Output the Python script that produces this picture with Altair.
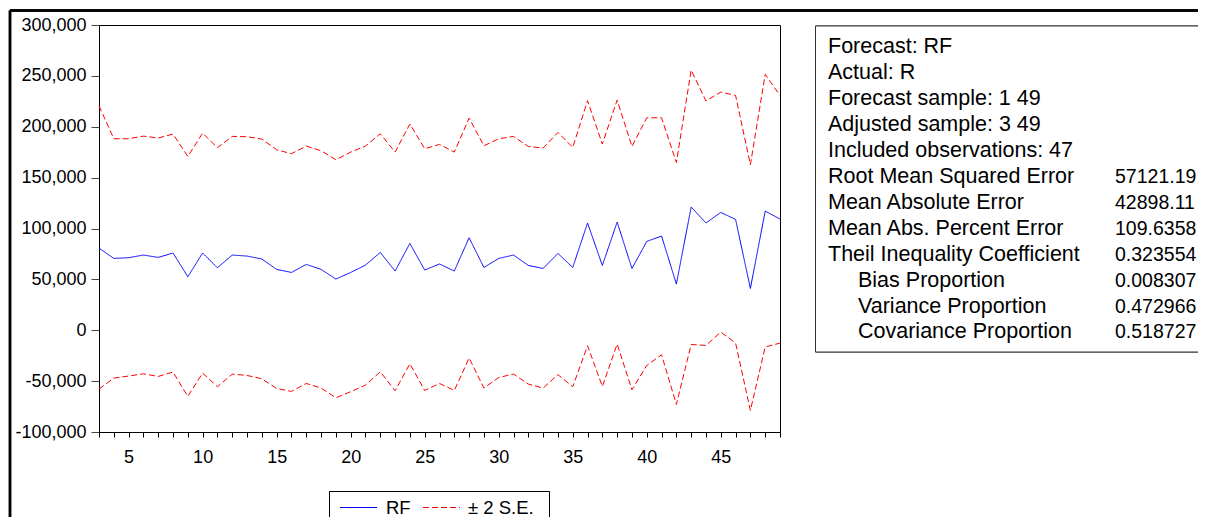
import altair as alt
import pandas as pd

# ---- data ----
periods = list(range(3, 50))
rf = [80800, 70600, 71300, 73900, 71600, 75900, 52600, 75900, 61400, 73900, 72900, 70000,
      59800, 56800, 64700, 59800, 50300, 56800, 64000, 76500, 58200, 85300, 59200, 65100,
      58200, 90900, 61700, 70600, 73900, 63700, 60700, 75500, 61700, 105400, 63700, 106300,
      60700, 87300, 92600, 45400, 121100, 105400, 115800, 108900, 41100, 117100, 109300]
upper = [220600, 188200, 188200, 190800, 188900, 192800, 170800, 193800, 179400, 190500,
         190200, 187900, 177400, 173500, 181000, 176400, 167600, 175100, 181000, 193100,
         175100, 202700, 178400, 182600, 175100, 208500, 181300, 188200, 190500, 180600,
         179100, 194400, 179700, 225600, 183000, 226200, 180600, 208800, 208800, 164900,
         255700, 225300, 234100, 230800, 162700, 251400, 230800]
lower = [-57800, -47000, -45000, -42800, -45400, -41100, -65000, -42100, -55500, -43100,
         -44400, -47700, -57200, -60100, -52300, -56800, -66300, -60400, -53900, -40800,
         -59500, -32900, -59200, -52300, -59200, -27300, -56800, -46400, -43100, -52900,
         -56800, -43700, -55500, -15200, -55200, -13600, -58500, -34600, -24100, -72900,
         -14000, -14900, -1800, -12600, -78800, -16500, -12600]

series_names = ["RF", "± 2 S.E."]
series_colors = ["#0000ff", "#ff0000"]
y_ticks = [-100000, -50000, 0, 50000, 100000, 150000, 200000, 250000, 300000]

stat_labels = ["Forecast: RF", "Actual: R", "Forecast sample: 1 49", "Adjusted sample: 3 49",
               "Included observations: 47", "Root Mean Squared Error", "Mean Absolute Error",
               "Mean Abs. Percent Error", "Theil Inequality Coefficient", "Bias Proportion",
               "Variance Proportion", "Covariance Proportion"]
stat_values = ["", "", "", "", "", "57121.19", "42898.11", "109.6358", "0.323554",
               "0.008307", "0.472966", "0.518727"]
stat_indent = [0, 0, 0, 0, 0, 0, 0, 0, 0, 1, 1, 1]

# ---- tables ----
rows = []
for name, vals, ser in [("rf", rf, series_names[0]), ("upper", upper, series_names[1]),
                        ("lower", lower, series_names[1])]:
    for t, v in zip(periods, vals):
        rows.append({"t": t, "v": v, "line": name, "series": ser})
lines_df = pd.DataFrame(rows)

stats_df = pd.DataFrame({"label": stat_labels, "value": stat_values,
                         "indent": stat_indent, "row": list(range(len(stat_labels)))})
legend_df = pd.DataFrame({"series": series_names})

FONT = "Liberation Sans"
W, H = 681, 407

x_enc = alt.X("t:Q", title=None,
              scale=alt.Scale(domain=[3, 49], nice=False, zero=False),
              axis=alt.Axis(values=periods, labelExpr="datum.value % 5 == 0 ? datum.label : ''",
                            tickSize=5, labelPadding=11, grid=False, labelFontSize=18,
                            domainColor="black", tickColor="black", labelColor="black"))
y_enc = alt.Y("v:Q", title=None,
              scale=alt.Scale(domain=[-100000, 300000], nice=False),
              axis=alt.Axis(values=y_ticks,
                            labelExpr="datum.value < 0 ? '-' + format(-datum.value, ',') : format(datum.value, ',')",
                            tickSize=8, labelPadding=5, grid=False, labelFontSize=18,
                            domainColor="black", tickColor="#444", labelColor="black"))

lines = alt.Chart(lines_df).mark_line(strokeWidth=1).encode(
    x=x_enc, y=y_enc, detail="line:N",
    color=alt.Color("series:N", legend=None,
                    scale=alt.Scale(domain=series_names, range=series_colors)),
    strokeDash=alt.StrokeDash("series:N", legend=None,
                              scale=alt.Scale(domain=series_names, range=[[1, 0], [6, 3]])),
)

# outer frame
frame_top = alt.Chart(legend_df).mark_rule(color="black", strokeWidth=2.5).encode(
    x=alt.value(-89), x2=alt.value(1200), y=alt.value(-14.5))
frame_left = alt.Chart(legend_df).mark_rule(color="black", strokeWidth=2.5).encode(
    x=alt.value(-89), y=alt.value(-14.5), y2=alt.value(520))

# stats box
box = alt.Chart(legend_df).mark_rect(fill="white", stroke="#333", strokeWidth=1).encode(
    x=alt.value(716.5), x2=alt.value(1130), y=alt.value(1), y2=alt.value(327))

stat_text = alt.Chart(stats_df).transform_calculate(
    py="22 + datum.row * 25.95", px="729 + 30 * datum.indent"
).mark_text(align="left", baseline="middle", fontSize=21.5, font=FONT, color="black").encode(
    x=alt.X("px:Q", scale=None), y=alt.Y("py:Q", scale=None), text="label:N")

val_text = alt.Chart(stats_df).transform_calculate(
    py="22 + datum.row * 25.95"
).mark_text(align="left", baseline="middle", fontSize=19.5, font=FONT, color="black").encode(
    x=alt.value(1016), y=alt.Y("py:Q", scale=None), text="value:N")

# legend (drawn by hand, EViews style)
leg_box = alt.Chart(legend_df).mark_rect(fill="white", stroke="black", strokeWidth=1).encode(
    x=alt.value(230.5), x2=alt.value(450.5), y=alt.value(466.5), y2=alt.value(540))
leg_rf = alt.Chart(legend_df).mark_rule(color=series_colors[0], strokeWidth=1).encode(
    x=alt.value(241), x2=alt.value(278), y=alt.value(482.5))
leg_se = alt.Chart(legend_df).mark_rule(color=series_colors[1], strokeWidth=1,
                                        strokeDash=[6, 3]).encode(
    x=alt.value(324), x2=alt.value(361), y=alt.value(482.5))
leg_rf_txt = alt.Chart(legend_df).transform_filter(
    alt.datum.series == series_names[0]
).mark_text(align="left", baseline="middle", fontSize=18.5, font=FONT, color="black").encode(
    x=alt.value(287), y=alt.value(483), text="series:N")
leg_se_txt = alt.Chart(legend_df).transform_filter(
    alt.datum.series == series_names[1]
).mark_text(align="left", baseline="middle", fontSize=18.5, font=FONT, color="black").encode(
    x=alt.value(369), y=alt.value(483), text="series:N")

chart = alt.layer(frame_top, frame_left, box, stat_text, val_text,
                  leg_box, leg_rf, leg_se, leg_rf_txt, leg_se_txt, lines).properties(
    width=W, height=H,
    autosize=alt.AutoSizeParams(type="none"),
    padding={"left": 91, "top": 17, "right": 418, "bottom": 85},
).configure(font=FONT).configure_view(
    stroke="black", strokeWidth=1
)

chart.save("out.html", embed_options={"renderer": "svg", "actions": False})
